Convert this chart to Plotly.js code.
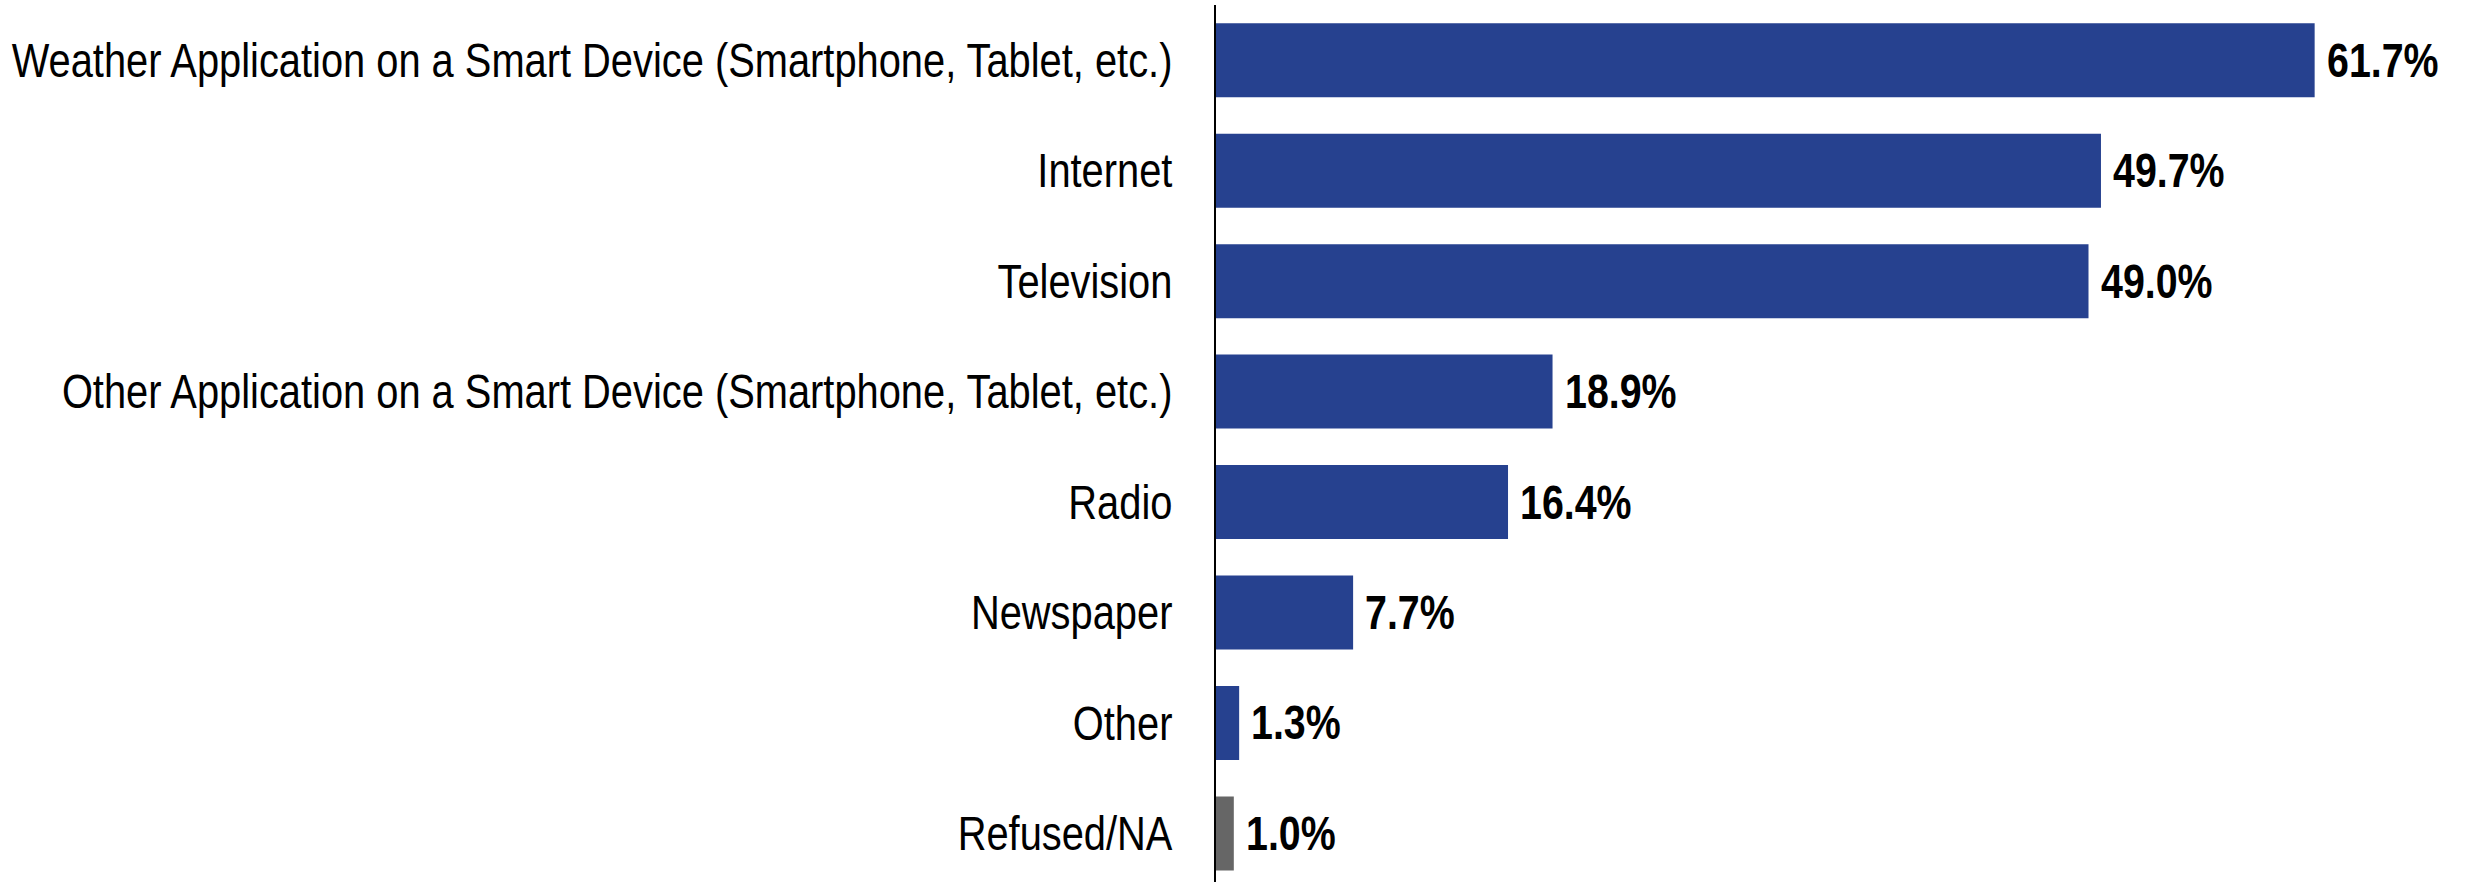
<!DOCTYPE html>
<html>
<head>
<meta charset="utf-8">
<script src="https://cdn.plot.ly/plotly-3.0.1.min.js"></script>
<style>html,body{margin:0;padding:0;background:#fff;}#chart{width:2466px;height:882px;}</style>
</head>
<body>
<div id="chart"></div>
<script>
const categories = [
  "Weather Application on a Smart Device (Smartphone, Tablet, etc.)",
  "Internet",
  "Television",
  "Other Application on a Smart Device (Smartphone, Tablet, etc.)",
  "Radio",
  "Newspaper",
  "Other",
  "Refused/NA"
];
const values = [61.7, 49.7, 49.0, 18.9, 16.4, 7.7, 1.3, 1.0];
const valueLabels = ["61.7%", "49.7%", "49.0%", "18.9%", "16.4%", "7.7%", "1.3%", "1.0%"];
const barColors = ["#26418F","#26418F","#26418F","#26418F","#26418F","#26418F","#26418F","#666666"];

const FONT = "'Liberation Sans', Arial, sans-serif";

const trace = {
  type: "bar",
  orientation: "h",
  x: values,
  y: categories,
  marker: {color: barColors, line: {width: 0}},
  width: 0.67,
  hoverinfo: "none"
};

const annotations = values.map((v, i) => ({
  x: v, y: categories[i], xref: "x", yref: "y",
  text: "<b>" + valueLabels[i] + "</b>",
  showarrow: false, xanchor: "left", yanchor: "middle",
  xshift: 10,
  font: {family: FONT, size: 48, color: "#000"}
}));

const layout = {
  width: 2466, height: 882,
  margin: {l: 1216, r: 0, t: 5, b: 0},
  paper_bgcolor: "#fff", plot_bgcolor: "#fff",
  showlegend: false,
  xaxis: {range: [0, 70.2], visible: false, fixedrange: true},
  yaxis: {
    type: "category",
    range: [7.44, -0.5],
    showline: true, linecolor: "#000", linewidth: 2,
    showgrid: false, zeroline: false,
    ticks: "", ticklabelstandoff: 32,
    tickfont: {family: FONT, size: 48, color: "#000"}
  },
  annotations: annotations
};

// narrow the text horizontally (Arial Narrow look), keeping the anchor edge fixed
function condense(el, s, anchorRight) {
  const bb = el.getBBox();
  const ax = anchorRight ? bb.x + bb.width : bb.x;
  const prev = el.getAttribute("transform") || "";
  el.setAttribute("transform", (prev + " translate(" + ax + ",0) scale(" + s + ",1) translate(" + (-ax) + ",0)").trim());
}

Plotly.newPlot("chart", [trace], layout, {displayModeBar: false, staticPlot: true}).then(gd => {
  gd.querySelectorAll(".ytick text").forEach(t => condense(t, 0.83, true));
  gd.querySelectorAll(".annotation-text").forEach(t => condense(t, 0.82, false));
});
</script>
</body>
</html>
